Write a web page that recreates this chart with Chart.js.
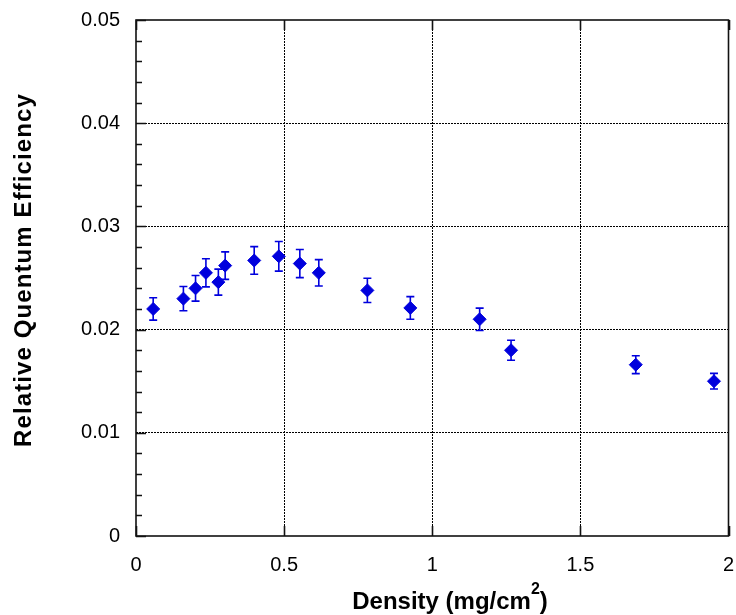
<!DOCTYPE html>
<html>
<head>
<meta charset="utf-8">
<script src="https://cdn.jsdelivr.net/npm/chart.js@4/dist/chart.umd.min.js"></script>
<style>
  html, body { margin: 0; padding: 0; background: #fff; }
  #wrap { width: 736px; height: 615px; }
</style>
</head>
<body>
<div id="wrap"><canvas id="c" width="736" height="615"></canvas></div>
<script>
// Relative quantum efficiency versus phosphor density
const density = [0.058, 0.160, 0.201, 0.236, 0.278, 0.301, 0.399, 0.482, 0.553, 0.617, 0.781, 0.926, 1.160, 1.266, 1.687, 1.951];
const efficiency = [0.0220, 0.0230, 0.0240, 0.0255, 0.0246, 0.0262, 0.0267, 0.0271, 0.0264, 0.0255, 0.0238, 0.0221, 0.0210, 0.0180, 0.0166, 0.0150];
const errors = [0.00108, 0.00117, 0.00124, 0.00136, 0.00126, 0.00133, 0.00134, 0.00143, 0.00136, 0.00128, 0.00118, 0.00110, 0.00108, 0.00097, 0.00087, 0.00076];
const xTicks = [0, 0.5, 1, 1.5, 2];
const yTicks = [0, 0.01, 0.02, 0.03, 0.04, 0.05];
const xTitle = 'Density (mg/cm';
const xTitleSup = '2';
const yTitle = 'Relative Quentum Efficiency';

const BLUE = '#0000DD';
const FONT = '"Liberation Sans", Arial, sans-serif';

const points = density.map((d, i) => ({ x: d, y: efficiency[i] }));

// Error bars, box frame, inward tick marks and axis titles
const decorations = {
  id: 'decorations',
  beforeDatasetsDraw(chart) {
    const { ctx, scales: { x, y } } = chart;
    ctx.save();
    ctx.strokeStyle = BLUE;
    ctx.lineWidth = 1.6;
    const cap = 4;
    density.forEach((d, i) => {
      const px = x.getPixelForValue(d);
      const top = y.getPixelForValue(efficiency[i] + errors[i]);
      const bot = y.getPixelForValue(efficiency[i] - errors[i]);
      ctx.beginPath();
      ctx.moveTo(px, top); ctx.lineTo(px, bot);
      ctx.moveTo(px - cap, top); ctx.lineTo(px + cap, top);
      ctx.moveTo(px - cap, bot); ctx.lineTo(px + cap, bot);
      ctx.stroke();
    });
    ctx.restore();
  },
  afterDraw(chart) {
    const { ctx, chartArea: a, scales: { x, y } } = chart;
    ctx.save();
    ctx.strokeStyle = '#111';
    ctx.lineWidth = 1.6;
    ctx.strokeRect(a.left, a.top, a.right - a.left, a.bottom - a.top);
    ctx.beginPath();
    // x ticks on bottom and top
    xTicks.forEach(v => {
      const px = Math.round(x.getPixelForValue(v)) + 0.5;
      ctx.moveTo(px, a.bottom); ctx.lineTo(px, a.bottom - 10);
      ctx.moveTo(px, a.top); ctx.lineTo(px, a.top + 10);
    });
    // y major and minor ticks on the left
    for (let k = 0; k <= 25; k++) {
      const v = k * 0.002;
      const py = Math.round(y.getPixelForValue(v)) + 0.5;
      const len = (k % 5 === 0) ? 10 : 6;
      ctx.moveTo(a.left, py); ctx.lineTo(a.left + len, py);
    }
    ctx.stroke();

    // axis titles
    ctx.fillStyle = '#000';
    ctx.textBaseline = 'alphabetic';
    ctx.textAlign = 'left';
    ctx.font = 'bold 24px ' + FONT;
    const mainW = ctx.measureText(xTitle).width;
    const closeW = ctx.measureText(')').width;
    ctx.font = 'bold 16px ' + FONT;
    const supW = ctx.measureText(xTitleSup).width;
    const total = mainW + supW + closeW;
    const tx = 450 - total / 2;
    const ty = 609;
    ctx.font = 'bold 24px ' + FONT;
    ctx.fillText(xTitle, tx, ty);
    ctx.fillText(')', tx + mainW + supW, ty);
    ctx.font = 'bold 16px ' + FONT;
    ctx.fillText(xTitleSup, tx + mainW, ty - 15);

    ctx.translate(31, 270);
    ctx.rotate(-Math.PI / 2);
    ctx.textAlign = 'center';
    ctx.font = 'bold 24px ' + FONT;
    ctx.letterSpacing = '1.1px';
    ctx.fillText(yTitle, 0, 0);
    ctx.restore();
  }
};

const edge = (ticks) => (ctx) => {
  const v = ctx.tick ? ctx.tick.value : null;
  return (v === ticks[0] || v === ticks[ticks.length - 1]) ? 'rgba(0,0,0,0)' : '#000';
};

new Chart(document.getElementById('c'), {
  type: 'scatter',
  data: {
    datasets: [{
      data: points,
      pointStyle: 'rectRot',
      pointRadius: 6.5,
      pointHoverRadius: 6.5,
      backgroundColor: BLUE,
      borderColor: BLUE,
      borderWidth: 1
    }]
  },
  options: {
    responsive: false,
    animation: false,
    events: [],
    layout: { padding: { top: 20, right: 6, left: 0, bottom: 0 } },
    plugins: { legend: { display: false }, tooltip: { enabled: false } },
    scales: {
      x: {
        type: 'linear',
        min: 0, max: 2,
        afterBuildTicks(scale) { scale.ticks = xTicks.map(v => ({ value: v })); },
        afterFit(scale) {
          scale.height = 79;
          scale.paddingLeft = 0; scale.paddingRight = 0;
        },
        ticks: {
          color: '#000',
          font: { family: FONT, size: 20 },
          padding: 17,
          maxRotation: 0,
          callback: v => String(v)
        },
        grid: { drawTicks: false, color: edge(xTicks), lineWidth: 1, borderDash: [2, 1] },
        border: { display: false, dash: [2, 1] }
      },
      y: {
        min: 0, max: 0.05,
        afterBuildTicks(scale) { scale.ticks = yTicks.map(v => ({ value: v })); },
        afterFit(scale) {
          scale.width = 136;
          scale.paddingTop = 0; scale.paddingBottom = 0;
        },
        ticks: {
          color: '#000',
          font: { family: FONT, size: 20 },
          padding: 16,
          callback: v => (v === 0 ? '0' : v.toFixed(2))
        },
        grid: { drawTicks: false, color: edge(yTicks), lineWidth: 1, borderDash: [2, 1] },
        border: { display: false, dash: [2, 1] }
      }
    }
  },
  plugins: [decorations]
});
</script>
</body>
</html>
